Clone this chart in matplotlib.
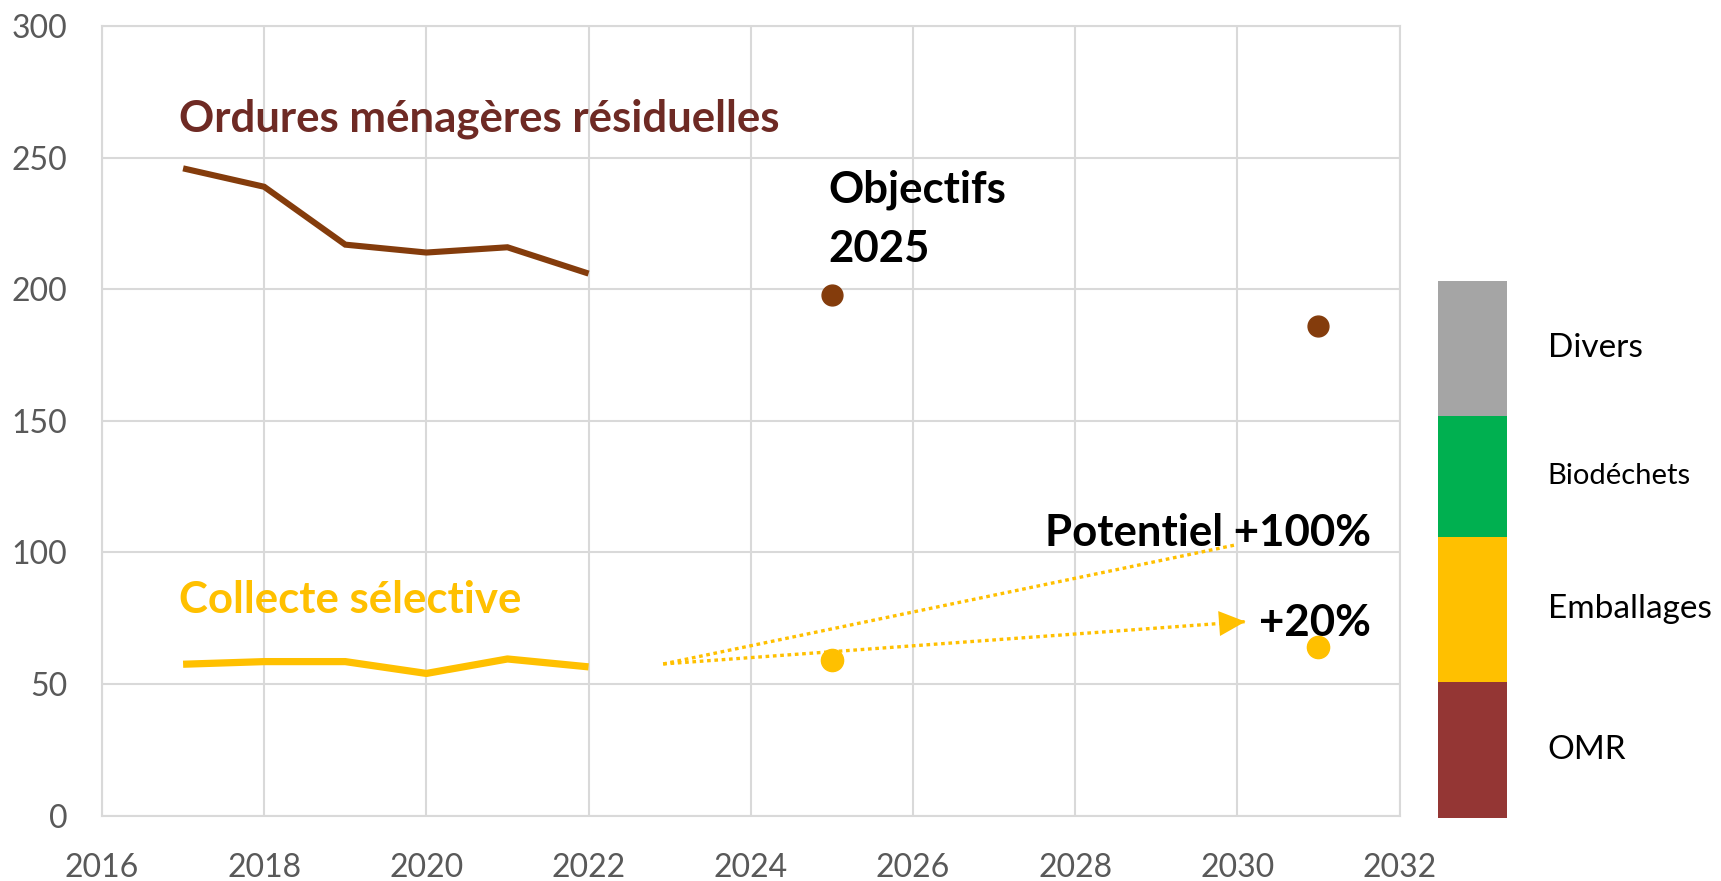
import matplotlib
matplotlib.use("Agg")
import matplotlib.pyplot as plt

# ---- data ----
years = [2017, 2018, 2019, 2020, 2021, 2022]
omr = [246, 239, 217, 214, 216, 206]
collecte = [57.5, 58.5, 58.5, 54, 59.5, 56.5]
target_years = [2025, 2031]
omr_targets = [198, 186]
collecte_targets = [59, 64]
proj_start = (2022.92, 57.6)
proj_100_end = (2030.0, 103)
proj_20_end = (2030.1, 73.7)
legend_labels = ["OMR", "Emballages", "Biodéchets", "Divers"]
legend_shares = [136, 145, 121, 135]
legend_colors = ["#943634", "#FFC000", "#00B050", "#A5A5A5"]
xticks = [2016, 2018, 2020, 2022, 2024, 2026, 2028, 2030, 2032]
yticks = [0, 50, 100, 150, 200, 250, 300]

W, H = 1721, 881
fig = plt.figure(figsize=(W / 100, H / 100), dpi=100)
ax = fig.add_axes([102 / W, 1 - 815.5 / H, 1297.5 / W, 789.2 / H])

grid_c = "#D9D9D9"
ax.set_xlim(2016, 2032)
ax.set_ylim(0, 300)
ax.set_xticks(xticks)
ax.set_yticks(yticks)
ax.grid(True, color=grid_c, lw=1.5)
ax.set_axisbelow(True)
for s in ax.spines.values():
    s.set_color(grid_c)
    s.set_linewidth(1.5)
ax.tick_params(length=0, labelsize=23, labelcolor="#595959")
ax.tick_params(axis="y", pad=25)
ax.tick_params(axis="x", pad=27)
for lab in ax.get_xticklabels() + ax.get_yticklabels():
    lab.set_family("Lato")

brown = "#843C0C"
yellow = "#FFC000"
ax.plot(years, omr, color=brown, lw=4.4, solid_capstyle="butt", solid_joinstyle="miter")
ax.plot(years, collecte, color=yellow, lw=5.2, solid_capstyle="butt")
ax.plot(target_years, omr_targets, "o", color=brown, ms=15, ls="none")
ax.plot(target_years, collecte_targets, "o", color=yellow, ms=16, ls="none")

# projections
for end in (proj_100_end, proj_20_end):
    ax.plot([proj_start[0], end[0]], [proj_start[1], end[1]], color=yellow,
            lw=2.4, dashes=(1.1, 1.1), dash_capstyle="butt")
dx = proj_20_end[0] - proj_start[0]
dy = proj_20_end[1] - proj_start[1]
ax.annotate("", xy=proj_20_end,
            xytext=(proj_20_end[0] - 0.05 * dx, proj_20_end[1] - 0.05 * dy),
            arrowprops=dict(arrowstyle="-|>,head_length=0.95,head_width=0.45",
                            mutation_scale=20, color=yellow, lw=0,
                            shrinkA=0, shrinkB=0))

bold = dict(family="Lato", weight="bold")
bfs = 31.5
ax.text(2016.95, 264.9, "Ordures ménagères résiduelles", color="#6E2A24",
        fontsize=bfs, va="center", ha="left", **bold)
ax.text(2016.95, 81.8, "Collecte sélective", color=yellow,
        fontsize=bfs, va="center", ha="left", **bold)
ax.text(2024.96, 237.8, "Objectifs", color="black", fontsize=bfs,
        va="center", ha="left", **bold)
ax.text(2024.96, 215.4, "2025", color="black", fontsize=bfs,
        va="center", ha="left", **bold)
ax.text(2031.65, 107.4, "Potentiel +100%", color="black", fontsize=bfs,
        va="center", ha="right", zorder=5, **bold)
ax.text(2031.65, 73.2, "+20%", color="black", fontsize=bfs,
        va="center", ha="right", zorder=5, **bold)

# category legend bar
total = sum(legend_shares)
lax = fig.add_axes([1438 / W, 1 - 817.7 / H, 69 / W, (817.7 - 281) / H])
bottom = 0
for lab, v, c in zip(legend_labels, legend_shares, legend_colors):
    lax.bar(0, v, bottom=bottom, width=1, color=c)
    fs = 21 if lab == "Biodéchets" else 24
    lax.text(0.5 + (1547.6 - 1507) / 69, bottom + v / 2, lab, fontsize=fs,
             family="Lato", va="center", ha="left", color="black",
             transform=lax.transData, clip_on=False)
    bottom += v
lax.set_xlim(-0.5, 0.5)
lax.set_ylim(0, total)
lax.axis("off")

fig.savefig("out.png", dpi=100)
